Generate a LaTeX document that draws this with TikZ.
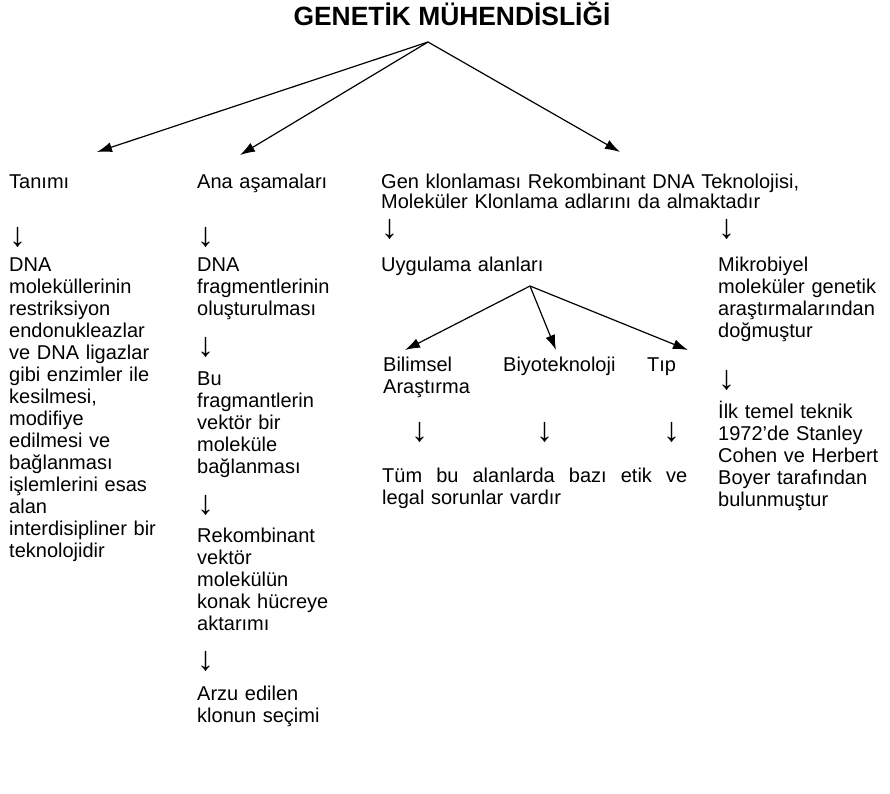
\documentclass[tikz,border=0pt]{standalone}
\usepackage{fontspec}
\setmainfont{Liberation Sans}
\usetikzlibrary{arrows.meta}
\tikzset{>={Latex[length=15pt,width=10pt]}}
\tikzset{lbl/.style={anchor=base west,inner sep=0pt,align=left,text width=#1,font=\fontsize{20}{22}\selectfont},
  lbl/.default=180pt,
  dn/.style={anchor=west,inner sep=0pt,font=\fontsize{34}{34}\selectfont},
  lnk/.style={line width=1.2pt,->}}

\begin{document}
\begin{tikzpicture}[x=1pt,y=-1pt]
		\path[fill=white,use as bounding box] (0,0) rectangle (890,793);
		\node[anchor=base,inner sep=0pt,font=\bfseries\fontsize{26.4}{30}\selectfont] (title) at (452,25) {GENETİK MÜHENDİSLİĞİ};
		\coordinate (apex) at ([shift={(-24,17)}]title.base);
		% first row
		\node[lbl] (tanim) at (9,188) {Tanımı};
		\node[lbl] (ana) at (197,188) {Ana aşamaları};
		\node[lbl=440pt] (gen) at (381,188) {Gen klonlaması Rekombinant DNA Teknolojisi,\\[-2pt]Moleküler Klonlama adlarını da almaktadır};
		\draw[lnk] (apex) -- ([shift={(88,-36)}]tanim.base west);
		\draw[lnk] (apex) -- ([shift={(43,-33)}]ana.base west);
		\draw[lnk] (apex) -- ([shift={(239,-36)}]gen.base west);
		\node[dn] (d1) at (9,237) {↓};
		\node[dn] (d2) at (197,237) {↓};
		\node[dn] (d3) at (381,229) {↓};
		\node[dn] (d4) at (718,229) {↓};
		% Tanimi
		\node[lbl] (tanimtxt) at (9,271) {DNA\\moleküllerinin\\restriksiyon\\endonukleazlar\\ve DNA ligazlar\\gibi enzimler ile\\kesilmesi,\\modifiye\\edilmesi ve\\bağlanması\\işlemlerini esas\\alan\\interdisipliner bir\\teknolojidir};
		% Ana asamalari
		\node[lbl] (frag) at (197,271) {DNA\\fragmentlerinin\\oluşturulması};
		\node[dn] (d5) at (197,347) {↓};
		\node[lbl] (vektor) at (197,385) {Bu\\fragmantlerin\\vektör bir\\moleküle\\bağlanması};
		\node[dn] (d6) at (197,505) {↓};
		\node[lbl] (rekomb) at (197,542) {Rekombinant\\vektör\\molekülün\\konak hücreye\\aktarımı};
		\node[dn] (d7) at (197,661) {↓};
		\node[lbl] (arzu) at (197,700) {Arzu edilen\\klonun seçimi};
		% Uygulama alanlari
		\node[lbl] (uyg) at (381,271) {Uygulama alanları};
		\coordinate (uapex) at ([shift={(149,15)}]uyg.base west);
		\node[lbl=110pt] (bilim) at (383,371) {Bilimsel\\Araştırma};
		\node[lbl=130pt] (biyo) at (503,371) {Biyoteknoloji};
		\node[lbl=60pt] (tip) at (647,371) {Tıp};
		\draw[lnk] (uapex) -- ([shift={(22,-21)}]bilim.base west);
		\draw[lnk] (uapex) -- ([shift={(53,-21)}]biyo.base west);
		\draw[lnk] (uapex) -- ([shift={(41,-21)}]tip.base west);
		\node[dn] (d8) at (411,432) {↓};
		\node[dn] (d9) at (536,432) {↓};
		\node[dn] (d10) at (663,432) {↓};
		\node[lbl=305pt] (etik) at (382,482) {Tüm\hfill bu\hfill alanlarda\hfill bazı\hfill etik\hfill ve\\legal sorunlar vardır};
		% Mikrobiyel
		\node[lbl] (mikro) at (718,271) {Mikrobiyel\\moleküler genetik\\araştırmalarından\\doğmuştur};
		\node[dn] (d11) at (718,380) {↓};
		\node[lbl] (ilk) at (718,418) {İlk temel teknik\\1972’de Stanley\\Cohen ve Herbert\\Boyer tarafından\\bulunmuştur};
	\end{tikzpicture}
\end{document}
